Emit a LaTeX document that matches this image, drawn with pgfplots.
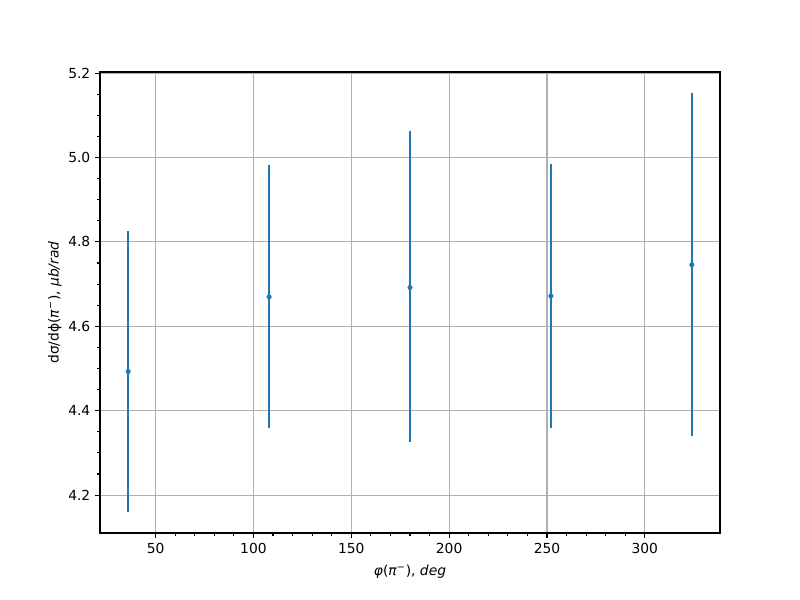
\documentclass[border=0pt]{standalone}
\usepackage{fontspec}
\setmainfont{DejaVu Sans}
\usepackage{pgfplots}
\pgfplotsset{compat=1.18}
\definecolor{mblue}{HTML}{1F77B4}
\definecolor{gridgray}{HTML}{B0B0B0}
\begin{document}
\begin{tikzpicture}
\path[use as bounding box] (0,0) rectangle (8in,6in);
\begin{axis}[at={(1in,0.67in)}, anchor=south west, scale only axis,
  width=6.2in, height=4.61in,
  xmin=21.6, xmax=338.4, ymin=4.1103, ymax=5.2027,
  xtick={50,100,150,200,250,300}, ytick={4.2,4.4,4.6,4.8,5.0,5.2},
  minor x tick num=4, minor y tick num=3,
  grid=major, major grid style={color=gridgray, line width=0.8pt},
  tick align=outside, xtick pos=bottom, ytick pos=left,
  major tick length=3.5pt, minor tick length=2pt,
  every tick/.style={black, line width=0.8pt},
  axis line style={line width=0.8pt},
  /pgf/number format/assume math mode=true,
  yticklabel style={/pgf/number format/fixed, /pgf/number format/fixed zerofill, /pgf/number format/precision=1},
  ticklabel style={font=\fontsize{10}{12}\selectfont},
  label style={font=\fontsize{10}{12}\selectfont},
  xlabel={\textit{φ}(\textit{π}\textsuperscript{−}), \textit{deg}},
  ylabel={dσ/dϕ(\textit{π}\textsuperscript{−}), \textit{μb/rad}},
  xlabel style={yshift=-2pt},
  ylabel style={yshift=-2pt},
]
\addplot[mblue, only marks, mark=*, mark size=1.6pt,
  error bars/.cd, y dir=both, y explicit,
  error bar style={line width=1.5pt, mblue}, error mark=none]
  table[x=x, y=y, y error plus=ep, y error minus=em] {
x y ep em
36 4.493 0.333 0.333
108 4.670 0.312 0.310
180 4.692 0.371 0.367
252 4.672 0.313 0.313
324 4.746 0.407 0.407
};
\end{axis}
\end{tikzpicture}
\end{document}
